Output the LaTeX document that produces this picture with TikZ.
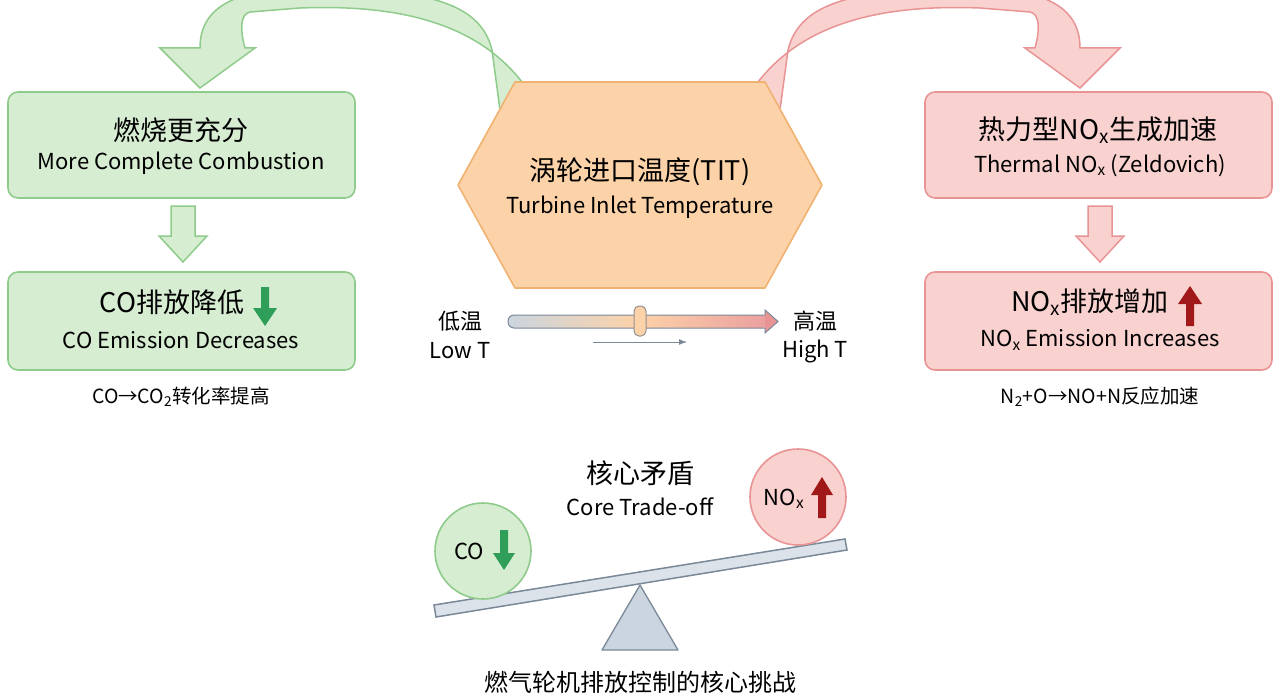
\documentclass[tikz,border=0pt]{standalone}
\usepackage{fontspec}
\setmainfont{Noto Sans CJK SC}
\usetikzlibrary{shapes.geometric,arrows.meta}
\definecolor{gfill}{HTML}{D6EDD2}\definecolor{gline}{HTML}{8FCB8A}
\definecolor{rfill}{HTML}{F9D2D0}\definecolor{rline}{HTML}{E89494}
\definecolor{ofill}{HTML}{FCD2A8}\definecolor{oline}{HTML}{F0B272}
\definecolor{garr}{HTML}{2E9E58}\definecolor{rarr}{HTML}{A01818}
\definecolor{sfill}{HTML}{CBD5DF}\definecolor{sline}{HTML}{7A8898}
\tikzset{x=1pt,y=-1pt,
 gbox/.style={draw=gline,fill=gfill,line width=1.6pt,rounded corners=10pt},
 rbox/.style={draw=rline,fill=rfill,line width=1.6pt,rounded corners=10pt},
 zh/.style={font=\fontsize{27}{29}\selectfont},
 en/.style={font=\fontsize{22}{24}\selectfont},
 sm/.style={font=\fontsize{19.5}{21}\selectfont}}
\begin{document}
\begin{tikzpicture}
\useasboundingbox (0,0) rectangle (1280,698);
% curved arrows
\fill[gfill,draw=gline,line width=1.5pt] (522,82) .. controls (470,15) and (380,5) .. (300,8) -- (250,12) .. controls (240,14) and (240,30) .. (245,48) -- (255,48) -- (200,88) -- (160,48) -- (200,48) .. controls (200,10) and (230,-10) .. (300,-12) .. controls (420,-12) and (480,0) .. (492,50) -- (500,110) -- cycle;
\fill[rfill,draw=rline,line width=1.5pt] (758,82) .. controls (810,15) and (900,5) .. (980,8) -- (1030,12) .. controls (1040,14) and (1040,30) .. (1035,48) -- (1025,48) -- (1080,88) -- (1120,48) -- (1080,48) .. controls (1080,10) and (1050,-10) .. (980,-12) .. controls (860,-12) and (800,0) .. (788,50) -- (780,110) -- cycle;
% hexagon
\draw[fill=ofill,draw=oline,line width=1.6pt,line join=round] (458,185) -- (515,82) -- (765,82) -- (822,185) -- (765,288) -- (515,288) -- cycle;
\node[zh] (hz) at (640,172) {涡轮进口温度(TIT)};
\node[en] (he) at (640,207) {Turbine Inlet Temperature};
% boxes
\draw[gbox] (8,92) rectangle (355,198);
\node[zh] (g1) at (181,130) {燃烧更充分};
\node[en] (g1e) at (181,163) {More Complete Combustion};
\draw[gbox] (8,272) rectangle (355,370);
\node[zh] (g2) at (172,302) {CO排放降低};
\node[en] (g2e) at (181,340) {CO Emission Decreases};
\fill[garr] (261,287) rectangle (269,308) (253,308) -- (277,308) -- (265,326) -- cycle;
\node[sm] (g3) at (181,397) {CO→CO\textsubscript{2}转化率提高};
\draw[rbox] (925,92) rectangle (1272,198);
\node[zh] (r1) at (1098,130) {热力型NO\textsubscript{x}生成加速};
\node[en] (r1e) at (1100,166) {Thermal NO\textsubscript{x} (Zeldovich)};
\draw[rbox] (925,272) rectangle (1272,370);
\node[zh] (r2) at (1090,302) {NO\textsubscript{x}排放增加};
\node[en] (r2e) at (1100,340) {NO\textsubscript{x} Emission Increases};
\fill[rarr] (1186,326) rectangle (1194,304) (1178,304) -- (1202,304) -- (1190,286) -- cycle;
\node[sm] (r3) at (1100,397) {N\textsubscript{2}+O→NO+N反应加速};
% hollow arrows
\draw[gbox,rounded corners=0pt,line width=1.5pt] (171,206) -- (195,206) -- (195,236) -- (207,236) -- (183,262) -- (159,236) -- (171,236) -- cycle;
\draw[rbox,rounded corners=0pt,line width=1.5pt] (1088,206) -- (1112,206) -- (1112,236) -- (1124,236) -- (1100,262) -- (1076,236) -- (1088,236) -- cycle;
% slider
\shade[left color=sfill,right color=rline!90,middle color=ofill,rounded corners=5pt] (508,315) rectangle (768,328);
\fill[rline] (765,310) -- (778,321.5) -- (765,333) -- cycle;
\draw[sline,line width=1pt,rounded corners=6pt] (765,328) -- (508,328) -- (508,315) -- (765,315);
\draw[sline,line width=1pt] (765,315) -- (765,310) -- (778,321.5) -- (765,333) -- (765,328);
\draw[fill=ofill,draw=sline!80!oline,line width=1pt,rounded corners=5pt] (634,306) rectangle (646,336);
\draw[sline,line width=1pt,-{Latex[length=8pt]}] (593,342) -- (687,342);
\node[en] (lo) at (460,321) {低温};
\node[en] (loe) at (460,351) {Low T};
\node[en] (hi) at (815,321) {高温};
\node[en] (hie) at (815,351) {High T};
% seesaw
\node[zh] (cz) at (640,473) {核心矛盾};
\node[en] (ce) at (640,507) {Core Trade-off};
\draw[fill=sfill,draw=sline,line width=1.3pt,line join=round] (640,585) -- (678,650) -- (602,650) -- cycle;
\draw[fill=sfill!70,draw=sline,line width=1.5pt] (434,605) -- (845,539) -- (847,550) -- (436,617) -- cycle;
\node[circle,draw=gline,fill=gfill,line width=1.6pt,minimum size=96pt] (co) at (483,551) {};
\node[en] at (469,551) {CO};
\fill[garr] (500,530) rectangle (508,553) (493,553) -- (515,553) -- (504,570) -- cycle;
\node[circle,draw=rline,fill=rfill,line width=1.6pt,minimum size=96pt] (nox) at (798,497) {};
\node[en] at (784,499) {NO\textsubscript{x}};
\fill[rarr] (818,518) rectangle (826,495) (811,495) -- (833,495) -- (822,477) -- cycle;
\node[font=\fontsize{24}{26}\selectfont] (bt) at (640,682) {燃气轮机排放控制的核心挑战};
\end{tikzpicture}
\end{document}
